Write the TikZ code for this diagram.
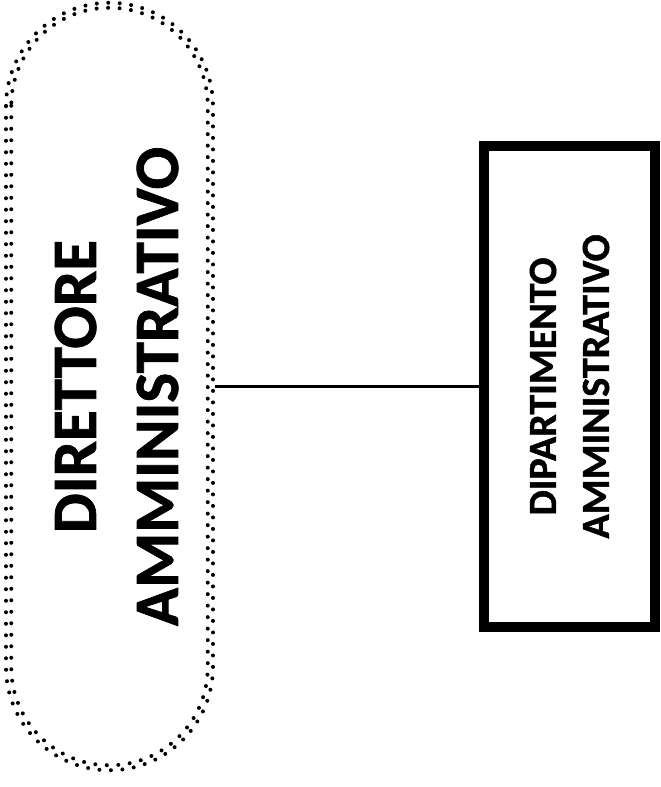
\documentclass[tikz,border=0pt]{standalone}
\usepackage{fontspec}
\setmainfont{Carlito}[BoldFeatures={FakeBold=1.2}]
\begin{document}
\begin{tikzpicture}[x=1pt,y=-1pt,
  dotrow/.style={draw, line width=4pt, line cap=round, dash pattern=on 0pt off 11.5pt},
  stadium/.style={rotate=90, dotrow, inner sep=0pt},
  vtext/.style={rotate=90, inner sep=0pt, align=center},
  deptbox/.style={rotate=90, draw, line width=10pt, inner sep=0pt, align=center, minimum width=481pt, minimum height=171pt},
  conn/.style={draw, line width=2.4pt}]
\useasboundingbox (0,0) rectangle (661,787);
\node[stadium, minimum width=767.5pt, minimum height=207pt, rounded corners=103.5pt] (dir) at (109.5,386.5) {};
\node[stadium, minimum width=757.5pt, minimum height=196.5pt, rounded corners=98pt] (dirin) at (dir.center) {};
\node[vtext, font=\fontsize{63}{82}\selectfont\bfseries] (dirtext) at ([xshift=7pt]dir.center)
  {DIRETTORE\\AMMINISTRATIVO};
\node[deptbox, font=\fontsize{40}{53}\selectfont\bfseries] (dept) at (569.5,386.5)
  {DIPARTIMENTO\\AMMINISTRATIVO};
\draw[conn] (dir.south) -- (dept.north);
\end{tikzpicture}
\end{document}
